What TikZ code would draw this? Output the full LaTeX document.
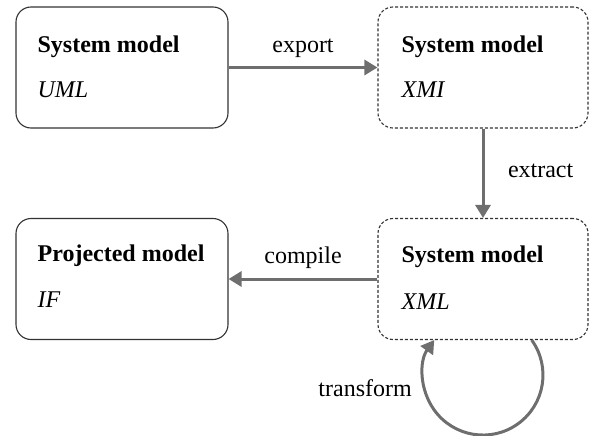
\documentclass[tikz,border=0pt]{standalone}
\usepackage{fontspec}
\setmainfont{Liberation Serif}
\usetikzlibrary{arrows.meta}
\definecolor{framec}{HTML}{333333}
\definecolor{flowc}{HTML}{6E6E6E}
\begin{document}
\begin{tikzpicture}[x=1pt,y=1pt,
  font=\fontsize{24}{28}\selectfont,
  model/.style={draw=framec, line width=1.1pt, rounded corners=15pt,
    minimum width=212pt, minimum height=121pt, inner sep=0pt},
  derived/.style={model, minimum width=210pt, dash pattern=on 3pt off 2pt},
  title/.style={anchor=base west, font=\fontsize{24}{28}\selectfont\bfseries, inner sep=0pt},
  format/.style={anchor=base west, font=\fontsize{24}{28}\selectfont\itshape, inner sep=0pt},
  flow/.style={draw=flowc, line width=3pt, -{Triangle[length=13pt,width=15pt]}},
  flowlabel/.style={inner sep=0pt}]
\useasboundingbox (0,0) rectangle (592,-436);

% model boxes
\node[model]   (uml) at (122,-67.5) {};
\node[derived] (xmi) at (483,-67.5) {};
\node[model]   (ifm) at (122,-279) {};
\node[derived] (xml) at (483,-279) {};

% box contents
\node[title]  at ([xshift=22pt,yshift=-46pt]uml.north west) {System model};
\node[format] at ([xshift=22pt,yshift=-91pt]uml.north west) {UML};
\node[title]  at ([xshift=24pt,yshift=-46pt]xmi.north west) {System model};
\node[format] at ([xshift=24pt,yshift=-91pt]xmi.north west) {XMI};
\node[title]  at ([xshift=22pt,yshift=-44pt]ifm.north west) {Projected model};
\node[format] at ([xshift=22pt,yshift=-90pt]ifm.north west) {IF};
\node[title]  at ([xshift=24pt,yshift=-45pt]xml.north west) {System model};
\node[format] at ([xshift=24pt,yshift=-92pt]xml.north west) {XML};

% transformations
\draw[flow] (uml.east) -- node[flowlabel, pos=0.5, anchor=base, yshift=14.5pt] {export} (xmi.west);
\draw[flow] (xmi.south) -- node[flowlabel, pos=0.5, anchor=base west, xshift=23.5pt, yshift=-4.5pt] {extract} (xml.north);
\draw[flow] (xml.west) -- node[flowlabel, pos=0.5, anchor=base, yshift=16pt] {compile} (ifm.east);
\draw[flow] ([xshift=48.7pt]xml.south) arc[start angle=35.7, end angle=-215.7, radius=60pt];
\node[flowlabel, anchor=base east] (tlabel) at ([xshift=-71pt,yshift=-56pt]xml.south) {transform};
\end{tikzpicture}
\end{document}
